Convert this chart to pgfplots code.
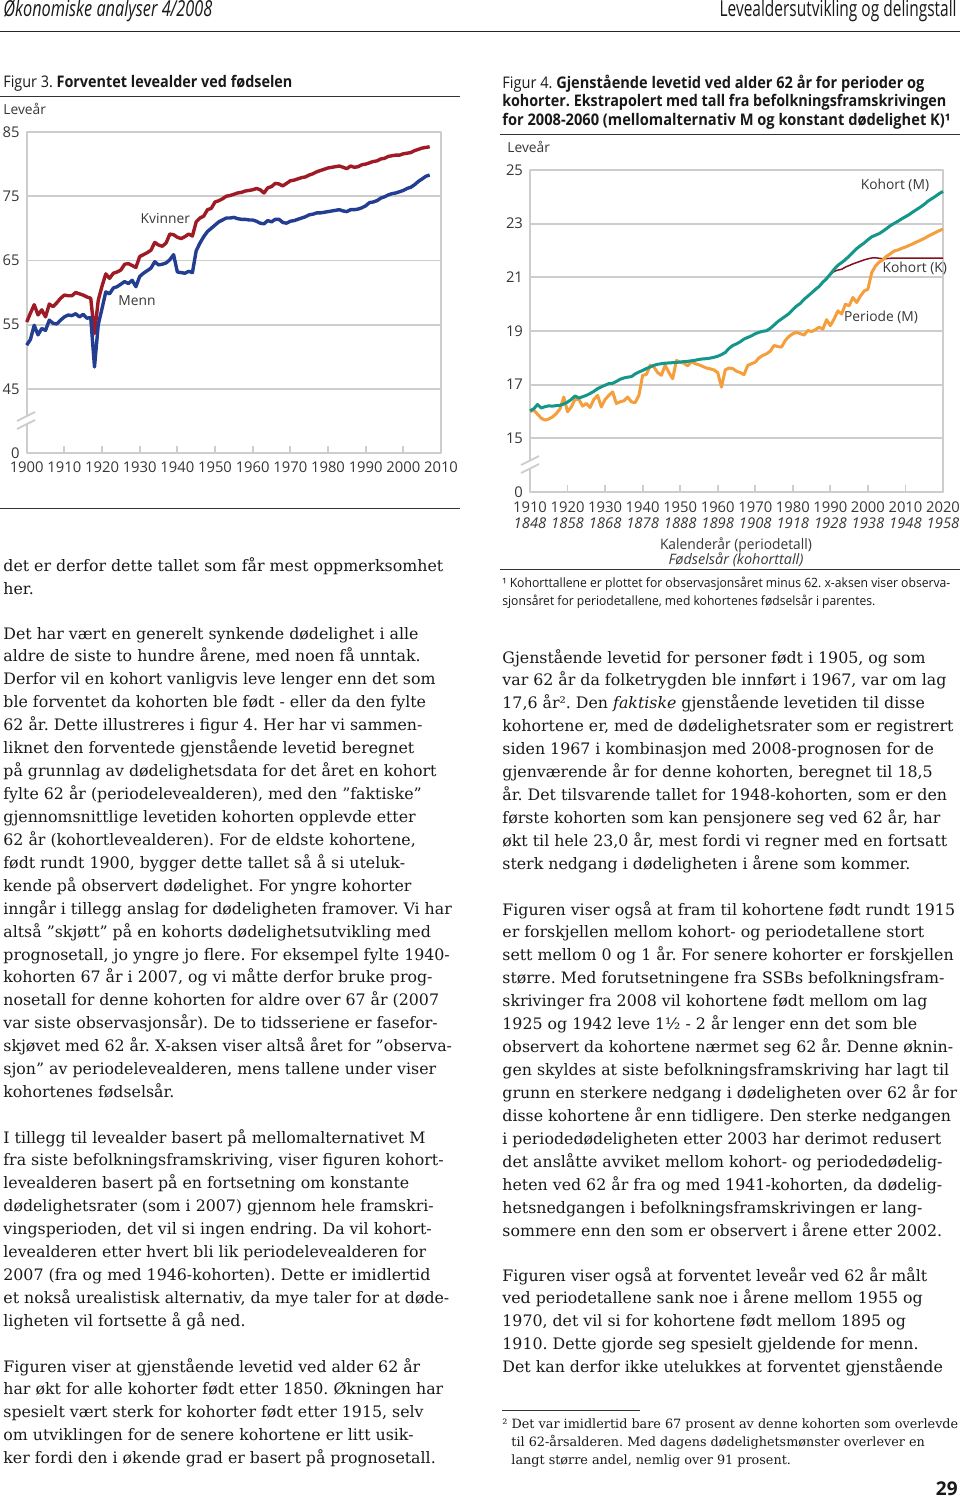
\documentclass[border=0pt]{standalone}
\usepackage{fontspec}
\usepackage{graphicx}
\usepackage{pgfplots}
\pgfplotsset{compat=1.18}
\setmainfont{DejaVu Serif}
\newfontfamily\cf{Open Sans}
\definecolor{kred}{RGB}{158,27,38}
\definecolor{mblue}{RGB}{35,62,145}
\definecolor{tealc}{RGB}{20,150,138}
\definecolor{orng}{RGB}{245,158,60}
\definecolor{dred}{RGB}{128,20,30}
\definecolor{gridg}{RGB}{205,205,205}
\definecolor{ctext}{RGB}{55,55,55}
\definecolor{btext}{RGB}{25,25,25}
\frenchspacing
\newcommand\fitw[2]{\sbox0{#2}\edef\fitwd{\the\wd0}\pgfmathsetmacro\fitsx{(#1)/\fitwd}\scalebox{\fitsx}[1]{#2}}
\newcommand\bodyf{\fontsize{7.9}{9}\selectfont\color{btext}}
\newcommand\fnf{\fontsize{6.4}{8}\selectfont\color{btext}}
\newcommand\tickf{\cf\fontsize{7.4}{7.6}\selectfont\color{ctext}}
\newcommand\labf{\cf\fontsize{6.9}{8}\selectfont\color{ctext}}
\begin{document}
\begin{tikzpicture}[x=0.5pt,y=-0.5pt]
\useasboundingbox (0,0) rectangle (960,1499);
\fill[white] (0,0) rectangle (960,1499);

% ---------- Figure 3 ----------
\begin{axis}[at={(13.35pt,-66pt)}, anchor=north west, scale only axis,
  width=207.15pt, height=160.5pt,
  xmin=1900, xmax=2010, ymin=35, ymax=85,
  xtick={1900,1910,...,2010},
  xticklabels={1900,1910,1920,1930,1940,1950,1960,1970,1980,1990,2000,2010},
  ytick={35,45,55,65,75,85}, yticklabels={0,45,55,65,75,85},
  ymajorgrids, grid style={gridg, line width=0.9pt},
  axis line style={gridg, line width=0.9pt},
  tick align=inside, xtick pos=left, ytick style={draw=none},
  xtick style={gridg, line width=0.9pt}, major tick length=3.5pt,
  ticklabel style={font=\tickf},
  xticklabel style={yshift=-1pt},
  clip=false, line join=round]
\addplot[kred, line width=1.7pt] coordinates {(1900,55.4)(1901,56.8)(1902,58.1)(1903,56.5)(1904,57.3)(1905,56.2)(1906,58.2)(1907,57.8)(1908,58.4)(1909,59.1)(1910,59.6)(1911,59.5)(1912,59.5)(1913,60.0)(1914,59.8)(1915,59.6)(1916,59.3)(1917,59.1)(1918,53.6)(1919,58.8)(1920,61.0)(1921,62.9)(1922,62.2)(1923,63.0)(1924,63.2)(1925,63.5)(1926,64.4)(1927,64.5)(1928,64.2)(1929,63.9)(1930,65.6)(1931,65.9)(1932,66.2)(1933,66.6)(1934,67.8)(1935,67.4)(1936,67.2)(1937,67.7)(1938,69.1)(1939,69.0)(1940,68.6)(1941,68.4)(1942,68.7)(1943,69.1)(1944,68.8)(1945,71.0)(1946,71.6)(1947,71.9)(1948,72.9)(1949,73.1)(1950,74.1)(1951,74.3)(1952,74.6)(1953,75.0)(1954,75.1)(1955,75.3)(1956,75.5)(1957,75.6)(1958,75.8)(1959,75.9)(1960,76.0)(1961,76.2)(1962,76.0)(1963,75.5)(1964,76.3)(1965,76.5)(1966,77.0)(1967,76.9)(1968,76.6)(1969,77.0)(1970,77.4)(1971,77.5)(1972,77.7)(1973,77.9)(1974,78.0)(1975,78.3)(1976,78.5)(1977,78.8)(1978,79.0)(1979,79.2)(1980,79.4)(1981,79.5)(1982,79.6)(1983,79.7)(1984,79.5)(1985,79.3)(1986,79.7)(1987,79.5)(1988,79.6)(1989,79.9)(1990,80.0)(1991,80.2)(1992,80.4)(1993,80.5)(1994,80.8)(1995,80.9)(1996,81.2)(1997,81.3)(1998,81.4)(1999,81.4)(2000,81.6)(2001,81.7)(2002,81.8)(2003,82.1)(2004,82.3)(2005,82.5)(2006,82.6)(2007,82.7)};
\addplot[mblue, line width=1.7pt] coordinates {(1900,51.8)(1901,52.7)(1902,54.9)(1903,53.4)(1904,54.4)(1905,54.1)(1906,55.7)(1907,55.2)(1908,55.1)(1909,55.7)(1910,56.2)(1911,56.5)(1912,56.4)(1913,56.7)(1914,56.2)(1915,56.6)(1916,56.0)(1917,56.1)(1918,48.4)(1919,55.0)(1920,57.5)(1921,60.1)(1922,59.8)(1923,60.7)(1924,60.9)(1925,61.3)(1926,61.7)(1927,61.4)(1928,61.9)(1929,60.9)(1930,62.5)(1931,63.0)(1932,63.4)(1933,63.8)(1934,64.8)(1935,64.3)(1936,64.4)(1937,64.6)(1938,65.1)(1939,65.9)(1940,63.2)(1941,63.1)(1942,63.0)(1943,63.3)(1944,63.1)(1945,66.5)(1946,67.7)(1947,68.7)(1948,69.5)(1949,70.0)(1950,70.5)(1951,71.0)(1952,71.3)(1953,71.6)(1954,71.6)(1955,71.7)(1956,71.5)(1957,71.4)(1958,71.4)(1959,71.3)(1960,71.3)(1961,71.1)(1962,70.8)(1963,70.7)(1964,71.2)(1965,71.0)(1966,71.4)(1967,71.4)(1968,70.9)(1969,70.8)(1970,71.1)(1971,71.2)(1972,71.4)(1973,71.6)(1974,71.8)(1975,72.1)(1976,72.2)(1977,72.4)(1978,72.4)(1979,72.5)(1980,72.6)(1981,72.7)(1982,72.8)(1983,72.9)(1984,72.7)(1985,72.6)(1986,72.9)(1987,72.9)(1988,73.0)(1989,73.2)(1990,73.5)(1991,74.0)(1992,74.1)(1993,74.3)(1994,74.7)(1995,74.9)(1996,75.2)(1997,75.4)(1998,75.5)(1999,75.7)(2000,75.9)(2001,76.2)(2002,76.4)(2003,76.8)(2004,77.3)(2005,77.7)(2006,78.1)(2007,78.3)};
\node[font=\labf] at (axis cs:1936.8,71.45) {Kvinner};
\node[font=\labf] at (axis cs:1929.3,58.7) {Menn};
\end{axis}

% ---------- Figure 4 ----------
\begin{axis}[at={(265pt,-85pt)}, anchor=north west, scale only axis,
  width=206.5pt, height=161pt,
  xmin=1910, xmax=2020, ymin=13, ymax=25,
  xtick={1910,1920,...,2020},
  xticklabels={{1910\\\textit{1848}},{1920\\\textit{1858}},{1930\\\textit{1868}},{1940\\\textit{1878}},{1950\\\textit{1888}},{1960\\\textit{1898}},{1970\\\textit{1908}},{1980\\\textit{1918}},{1990\\\textit{1928}},{2000\\\textit{1938}},{2010\\\textit{1948}},{2020\\\textit{1958}}},
  ytick={13,15,17,19,21,23,25}, yticklabels={0,15,17,19,21,23,25},
  ymajorgrids, grid style={gridg, line width=0.9pt},
  axis line style={gridg, line width=0.9pt},
  tick align=inside, xtick pos=left, ytick style={draw=none},
  xtick style={gridg, line width=0.9pt}, major tick length=3.5pt,
  ticklabel style={font=\tickf},
  xticklabel style={align=center, yshift=-1.5pt},
  clip=false, line join=round]
\addplot[dred, line width=0.75pt] coordinates {(1983,20.18)(1984,20.3)(1985,20.42)(1986,20.52)(1987,20.68)(1988,20.83)(1989,20.98)(1990,21.11)(1991,21.22)(1992,21.27)(1993,21.3)(1994,21.38)(1995,21.44)(1996,21.5)(1997,21.55)(1998,21.6)(1999,21.65)(2000,21.69)(2001,21.72)(2002,21.73)(2003,21.71)(2004,21.69)(2005,21.7)(2006,21.71)(2007,21.72)(2008,21.72)(2010,21.72)(2015,21.72)(2020,21.72)};
\addplot[orng, line width=1.5pt] coordinates {(1910,16.0)(1911,16.05)(1912,15.9)(1913,15.75)(1914,15.68)(1915,15.72)(1916,15.8)(1917,15.92)(1918,16.1)(1919,16.54)(1920,15.99)(1921,16.17)(1922,16.45)(1923,16.46)(1924,16.2)(1925,16.3)(1926,16.15)(1927,16.45)(1928,16.6)(1929,16.17)(1930,16.45)(1931,16.6)(1932,16.73)(1933,16.3)(1934,16.36)(1935,16.4)(1936,16.54)(1937,16.36)(1938,16.33)(1939,16.6)(1940,17.35)(1941,17.38)(1942,17.72)(1943,17.66)(1944,17.45)(1945,17.35)(1946,17.72)(1947,17.45)(1948,17.22)(1949,17.9)(1950,17.84)(1951,17.8)(1952,17.7)(1953,17.86)(1954,17.78)(1955,17.74)(1956,17.68)(1957,17.62)(1958,17.59)(1959,17.55)(1960,17.45)(1961,16.91)(1962,17.55)(1963,17.62)(1964,17.6)(1965,17.5)(1966,17.45)(1967,17.37)(1968,17.72)(1969,17.78)(1970,17.84)(1971,18.0)(1972,18.09)(1973,18.15)(1974,18.25)(1975,18.46)(1976,18.42)(1977,18.4)(1978,18.65)(1979,18.8)(1980,18.9)(1981,18.95)(1982,18.9)(1983,18.85)(1984,19.02)(1985,18.98)(1986,19.05)(1987,19.14)(1988,19.07)(1989,19.42)(1990,19.2)(1991,19.45)(1992,19.75)(1993,19.63)(1994,20.0)(1995,19.94)(1996,20.25)(1997,20.06)(1998,20.3)(1999,20.49)(2000,20.56)(2001,21.17)(2002,21.42)(2003,21.57)(2004,21.65)(2005,21.79)(2006,21.88)(2007,21.98)(2008,22.02)(2009,22.08)(2010,22.13)(2011,22.19)(2012,22.25)(2013,22.32)(2014,22.38)(2015,22.45)(2016,22.53)(2017,22.6)(2018,22.67)(2019,22.74)(2020,22.8)};
\addplot[tealc, line width=1.5pt] coordinates {(1910,16.03)(1911,16.1)(1912,16.26)(1913,16.13)(1914,16.18)(1915,16.21)(1916,16.2)(1917,16.22)(1918,16.23)(1919,16.28)(1920,16.35)(1921,16.45)(1922,16.58)(1923,16.5)(1924,16.55)(1925,16.6)(1926,16.67)(1927,16.75)(1928,16.85)(1929,16.92)(1930,16.98)(1931,17.04)(1932,17.05)(1933,17.12)(1934,17.2)(1935,17.25)(1936,17.28)(1937,17.3)(1938,17.4)(1939,17.47)(1940,17.53)(1941,17.6)(1942,17.66)(1943,17.72)(1944,17.76)(1945,17.78)(1946,17.8)(1947,17.81)(1948,17.82)(1949,17.83)(1950,17.84)(1951,17.86)(1952,17.87)(1953,17.89)(1954,17.91)(1955,17.94)(1956,17.96)(1957,17.97)(1958,17.99)(1959,18.02)(1960,18.06)(1961,18.12)(1962,18.2)(1963,18.35)(1964,18.46)(1965,18.52)(1966,18.6)(1967,18.7)(1968,18.76)(1969,18.82)(1970,18.9)(1971,18.95)(1972,18.99)(1973,19.01)(1974,19.1)(1975,19.22)(1976,19.35)(1977,19.45)(1978,19.55)(1979,19.65)(1980,19.8)(1981,19.93)(1982,20.03)(1983,20.18)(1984,20.3)(1985,20.42)(1986,20.55)(1987,20.66)(1988,20.82)(1989,20.95)(1990,21.12)(1991,21.3)(1992,21.45)(1993,21.55)(1994,21.66)(1995,21.79)(1996,21.93)(1997,22.07)(1998,22.18)(1999,22.28)(2000,22.4)(2001,22.51)(2002,22.57)(2003,22.63)(2004,22.72)(2005,22.82)(2006,22.93)(2007,23.01)(2008,23.09)(2009,23.18)(2010,23.26)(2011,23.34)(2012,23.44)(2013,23.53)(2014,23.62)(2015,23.72)(2016,23.84)(2017,23.93)(2018,24.02)(2019,24.12)(2020,24.2)};
\node[font=\labf] at (axis cs:2007.2,24.41) {Kohort (M)};
\node[font=\labf] at (axis cs:2012.5,21.33) {Kohort (K)};
\node[font=\labf] at (axis cs:2003.5,19.52) {Periode (M)};
\end{axis}

% axis breaks
\fill[white] (17,421) -- (35,412) -- (35,420) -- (17,429) -- cycle;
\draw[gridg, line width=0.9pt] (17,421) -- (35,412) (17,429) -- (35,420);
\fill[white] (521,465) -- (539,456) -- (539,464) -- (521,473) -- cycle;
\draw[gridg, line width=0.9pt] (521,465) -- (539,456) (521,473) -- (539,464);

% header
\node[anchor=base west, inner sep=0pt] at (3,17) {\fitw{104.5pt}{\cf\itshape\fontsize{11}{12}\selectfont\color{btext}Økonomiske analyser 4/2008}};
\node[anchor=base east, inner sep=0pt] at (957,17) {\fitw{118.5pt}{\cf\fontsize{11}{12}\selectfont\color{btext}Levealdersutvikling og delingstall}};
\draw[line width=0.9pt, black!85] (0,31.5) -- (960,31.5);

% chart titles
\node[anchor=base west, inner sep=0pt] at (3,87) {\fitw{144.5pt}{\cf\fontsize{8}{9}\selectfont\color{btext}Figur 3. \textbf{Forventet levealder ved fødselen}}};
\draw[line width=0.5pt, black!80] (0,96) -- (460,96);
\node[anchor=base west, inner sep=0pt, font=\labf] at (3,114) {Leveår};
\draw[line width=0.5pt, black!80] (0,508) -- (460,508);

\node[anchor=base west, inner sep=0pt] at (502,88) {\fitw{211pt}{\cf\fontsize{8}{9}\selectfont\color{btext}Figur 4. \textbf{Gjenstående levetid ved alder 62 år for perioder og}}};
\node[anchor=base west, inner sep=0pt] at (502,106) {\fitw{222pt}{\cf\fontsize{8}{9}\selectfont\color{btext}\textbf{kohorter. Ekstrapolert med tall fra befolkningsframskrivingen}}};
\node[anchor=base west, inner sep=0pt] at (502,125) {\fitw{224pt}{\cf\fontsize{8}{9}\selectfont\color{btext}\textbf{for 2008-2060 (mellomalternativ M og konstant dødelighet K)¹}}};
\draw[line width=0.5pt, black!80] (500,134) -- (960,134);
\node[anchor=base west, inner sep=0pt, font=\labf] at (507,152) {Leveår};
\node[anchor=base, inner sep=0pt] at (736,549) {\fitw{76pt}{\cf\fontsize{7.2}{8}\selectfont\color{ctext}Kalenderår (periodetall)}};
\node[anchor=base, inner sep=0pt] at (736,564) {\fitw{67.5pt}{\cf\itshape\fontsize{7.2}{8}\selectfont\color{ctext}Fødselsår (kohorttall)}};
\draw[line width=0.5pt, black!80] (500,569) -- (960,569);
\node[anchor=base west, inner sep=0pt] at (502,587) {\fitw{224pt}{\cf\fontsize{6.4}{7}\selectfont\color{btext}¹ Kohorttallene er plottet for observasjonsåret minus 62. x-aksen viser observa-}};
\node[anchor=base west, inner sep=0pt] at (502,605) {\fitw{186.5pt}{\cf\fontsize{6.4}{7}\selectfont\color{btext}sjonsåret for periodetallene, med kohortenes fødselsår i parentes.}};

% body text, left column
\node[anchor=base west, inner sep=0pt, font=\bodyf] at (3,571) {det er derfor dette tallet som får mest oppmerksomhet};
\node[anchor=base west, inner sep=0pt, font=\bodyf] at (3,594) {her.};
\foreach \t [count=\i from 0] in {
{Det har vært en generelt synkende dødelighet i alle},
{aldre de siste to hundre årene, med noen få unntak.},
{Derfor vil en kohort vanligvis leve lenger enn det som},
{ble forventet da kohorten ble født  - eller da den fylte},
{62 år. Dette illustreres i figur 4. Her har vi sammen-},
{liknet den forventede gjenstående levetid beregnet},
{på grunnlag av dødelighetsdata for det året en kohort},
{fylte 62 år (periodelevealderen), med den ”faktiske”},
{gjennomsnittlige levetiden kohorten opplevde etter},
{62 år (kohortlevealderen). For de eldste kohortene,},
{født rundt 1900, bygger dette tallet så å si uteluk-},
{kende på observert dødelighet. For yngre kohorter},
{inngår i tillegg anslag for dødeligheten framover. Vi har},
{altså ”skjøtt” på en kohorts dødelighetsutvikling med},
{prognosetall, jo yngre jo flere. For eksempel fylte 1940-},
{kohorten 67 år i 2007, og vi måtte derfor bruke prog-},
{nosetall for denne kohorten for aldre over 67 år (2007},
{var siste observasjonsår). De to tidsseriene er fasefor-},
{skjøvet med 62 år. X-aksen viser altså året for ”observa-},
{sjon” av periodelevealderen, mens tallene under viser},
{kohortenes fødselsår.}}
{\node[anchor=base west, inner sep=0pt, font=\bodyf] at (3,{639+\i*22.93}) {\t};}
\foreach \t [count=\i from 0] in {
{I tillegg til levealder basert på mellomalternativet M},
{fra siste befolkningsframskriving, viser figuren kohort-},
{levealderen basert på en fortsetning om konstante},
{dødelighetsrater (som i 2007) gjennom hele framskri-},
{vingsperioden, det vil si ingen endring. Da vil kohort-},
{levealderen etter hvert bli lik periodelevealderen for},
{2007 (fra og med 1946-kohorten). Dette er imidlertid},
{et nokså urealistisk alternativ, da mye taler for at døde-},
{ligheten vil fortsette å gå ned.}}
{\node[anchor=base west, inner sep=0pt, font=\bodyf] at (3,{1143+\i*22.93}) {\t};}
\foreach \t [count=\i from 0] in {
{Figuren viser at gjenstående levetid ved alder 62 år},
{har økt for alle kohorter født etter 1850. Økningen har},
{spesielt vært sterk for kohorter født etter 1915, selv},
{om utviklingen for de senere kohortene er litt usik-},
{ker fordi den i økende grad er basert på prognosetall.}}
{\node[anchor=base west, inner sep=0pt, font=\bodyf] at (3,{1372+\i*22.93}) {\t};}

% body text, right column
\foreach \t [count=\i from 0] in {
{Gjenstående levetid for personer født i 1905, og som},
{var 62 år da folketrygden ble innført i 1967, var om lag},
{17,6 år². Den \textit{faktiske} gjenstående levetiden til disse},
{kohortene er, med de dødelighetsrater som er registrert},
{siden 1967 i kombinasjon med 2008-prognosen for de},
{gjenværende år for denne kohorten, beregnet til 18,5},
{år. Det tilsvarende tallet for 1948-kohorten, som er den},
{første kohorten som kan pensjonere seg ved 62 år, har},
{økt til hele 23,0 år, mest fordi vi regner med en fortsatt},
{sterk nedgang i dødeligheten i årene som kommer.}}
{\node[anchor=base west, inner sep=0pt, font=\bodyf] at (502,{663+\i*22.93}) {\t};}
\foreach \t [count=\i from 0] in {
{Figuren viser også at fram til kohortene født rundt 1915},
{er forskjellen mellom kohort- og periodetallene stort},
{sett mellom 0 og 1 år. For senere kohorter er forskjellen},
{større. Med forutsetningene fra SSBs befolkningsfram-},
{skrivinger fra 2008 vil kohortene født mellom om lag},
{1925 og 1942 leve 1½ - 2 år lenger enn det som ble},
{observert da kohortene nærmet seg 62 år. Denne øknin-},
{gen skyldes at siste befolkningsframskriving har lagt til},
{grunn en sterkere nedgang i dødeligheten over 62 år for},
{disse kohortene år enn tidligere. Den sterke nedgangen},
{i periodedødeligheten etter 2003 har derimot redusert},
{det anslåtte avviket mellom kohort- og periodedødelig-},
{heten ved 62 år fra og med 1941-kohorten, da dødelig-},
{hetsnedgangen i befolkningsframskrivingen er lang-},
{sommere enn den som er observert i årene etter 2002.}}
{\node[anchor=base west, inner sep=0pt, font=\bodyf] at (502,{915+\i*22.93}) {\t};}
\foreach \t [count=\i from 0] in {
{Figuren viser også at forventet leveår ved 62 år målt},
{ved periodetallene sank noe i årene mellom 1955 og},
{1970, det vil si for kohortene født mellom 1895 og},
{1910. Dette gjorde seg spesielt gjeldende for menn.},
{Det kan derfor ikke utelukkes at forventet gjenstående}}
{\node[anchor=base west, inner sep=0pt, font=\bodyf] at (502,{1281+\i*22.93}) {\t};}

% footnote 2
\draw[line width=0.5pt, black!80] (502,1410) -- (640,1410);
\node[anchor=base west, inner sep=0pt, font=\fnf] at (502,1428) {² Det var imidlertid bare 67 prosent av denne kohorten som overlevde};
\node[anchor=base west, inner sep=0pt, font=\fnf] at (511,1446) {til 62-årsalderen. Med dagens dødelighetsmønster overlever en};
\node[anchor=base west, inner sep=0pt, font=\fnf] at (511,1464) {langt større andel, nemlig over 91 prosent.};
\node[anchor=base east, inner sep=0pt, font=\cf\bfseries\fontsize{9.5}{10}\selectfont\color{btext}] at (958,1495) {29};
\end{tikzpicture}
\end{document}
